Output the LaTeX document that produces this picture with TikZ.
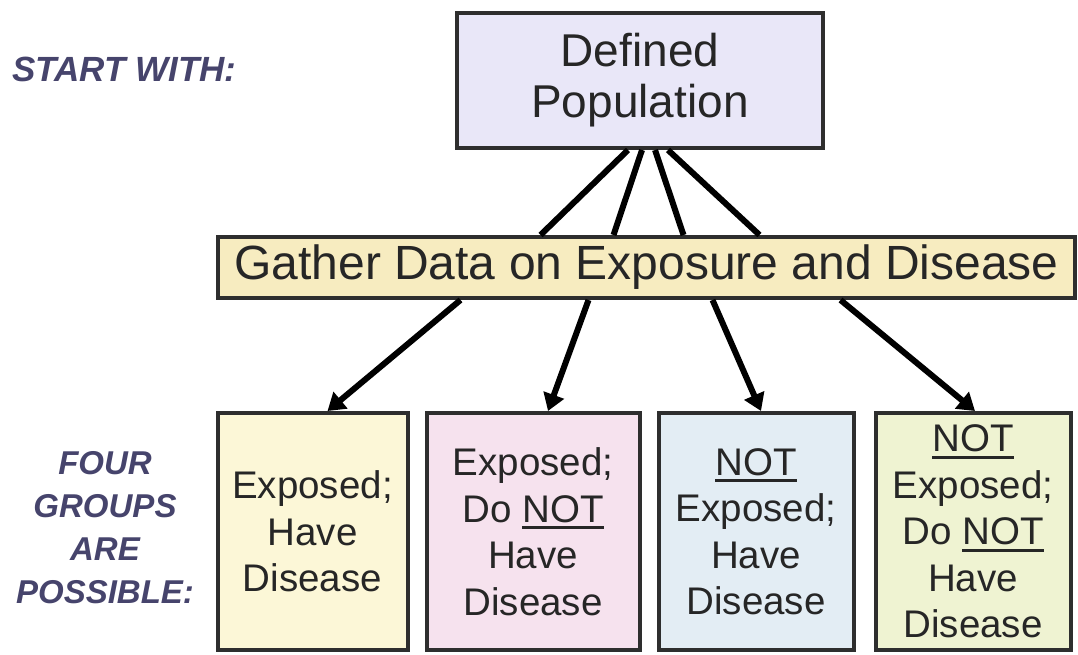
\documentclass[tikz,border=0pt]{standalone}
\usepackage{fontspec}
\setmainfont{Liberation Sans}
\usepackage{xcolor}
\usetikzlibrary{positioning, arrows.meta}

\definecolor{popfill}{RGB}{233,231,248}
\definecolor{gatherfill}{RGB}{247,236,192}
\definecolor{grpa}{RGB}{252,247,215}
\definecolor{grpb}{RGB}{246,226,238}
\definecolor{grpc}{RGB}{227,237,244}
\definecolor{grpd}{RGB}{239,243,210}
\definecolor{sidetext}{RGB}{70,68,108}

% underlined word with a thick rule
\newcommand{\undl}[1]{\setbox0=\hbox{#1}\rlap{\rule[-7pt]{\wd0}{2.8pt}}\box0}

\begin{document}
\begin{tikzpicture}[
		x=1pt, y=-1pt,
		>={Triangle[length=17pt, width=21pt]},
		% Define styles for the boxes
		box/.style={
			draw=black!82,
			line width=4pt,
			align=center,
			inner sep=0pt,
			text=black!85
		},
		group/.style={
			box,
			minimum height=237pt,
			font=\fontsize{38.5}{46.5}\selectfont
		},
		side_text/.style={
			font=\fontsize{35}{43}\selectfont\bfseries\itshape,
			text=sidetext,
			align=center,
			inner sep=0pt
		},
		link/.style={
			line width=6pt,
			black
		}
		]
		
		\useasboundingbox (0,0) rectangle (1078,655);
		
		% --- 1. DEFINED POPULATION ---
		\node[box, fill=popfill, minimum width=366pt, minimum height=135pt,
			font=\fontsize{46}{51}\selectfont] (population) at (640,80.5) {Defined\\Population};
		\node[side_text, anchor=west] (start) at (12,69) {START WITH:};
		
		% --- 2. GATHER DATA ---
		\node[box, fill=gatherfill, minimum width=857pt, minimum height=61pt,
			font=\fontsize{48}{52}\selectfont] (gather) at (646.5,267.5) {Gather Data on Exposure and Disease};
		
		\foreach \s/\e in {-12/-106, 2/-33, 15/37, 28/113}
			\draw[link] ([xshift=\s pt]population.south) -- ([xshift=\e pt]gather.north);
		
		% --- 3. FOUR GROUPS ---
		\node[group, fill=grpa, minimum width=190pt] (exp_dis) at (312.5,531.5) {Exposed;\\Have\\Disease};
		\node[group, fill=grpb, minimum width=213pt, right=15pt of exp_dis] (exp_nodis) {Exposed;\\Do \undl{NOT}\\Have\\Disease};
		\node[group, fill=grpc, minimum width=195pt, right=15pt of exp_nodis] (noexp_dis) {\undl{NOT}\\Exposed;\\Have\\Disease};
		\node[group, fill=grpd, minimum width=195pt, right=18pt of noexp_dis] (noexp_nodis) {\undl{NOT}\\Exposed;\\Do \undl{NOT}\\Have\\Disease};
		
		\node[side_text, font=\fontsize{33}{43}\selectfont\bfseries\itshape] (groups) at (105,528) {FOUR\\GROUPS\\ARE\\POSSIBLE:};
		
		% Arrows Gather -> Groups
		\foreach \s/\t/\e in {-186/exp_dis/15, -58/exp_nodis/15, 66/noexp_dis/5, 194/noexp_nodis/2}
			\draw[link, ->] ([xshift=\s pt]gather.south) -- ([xshift=\e pt]\t.north);
		
	\end{tikzpicture}
\end{document}
